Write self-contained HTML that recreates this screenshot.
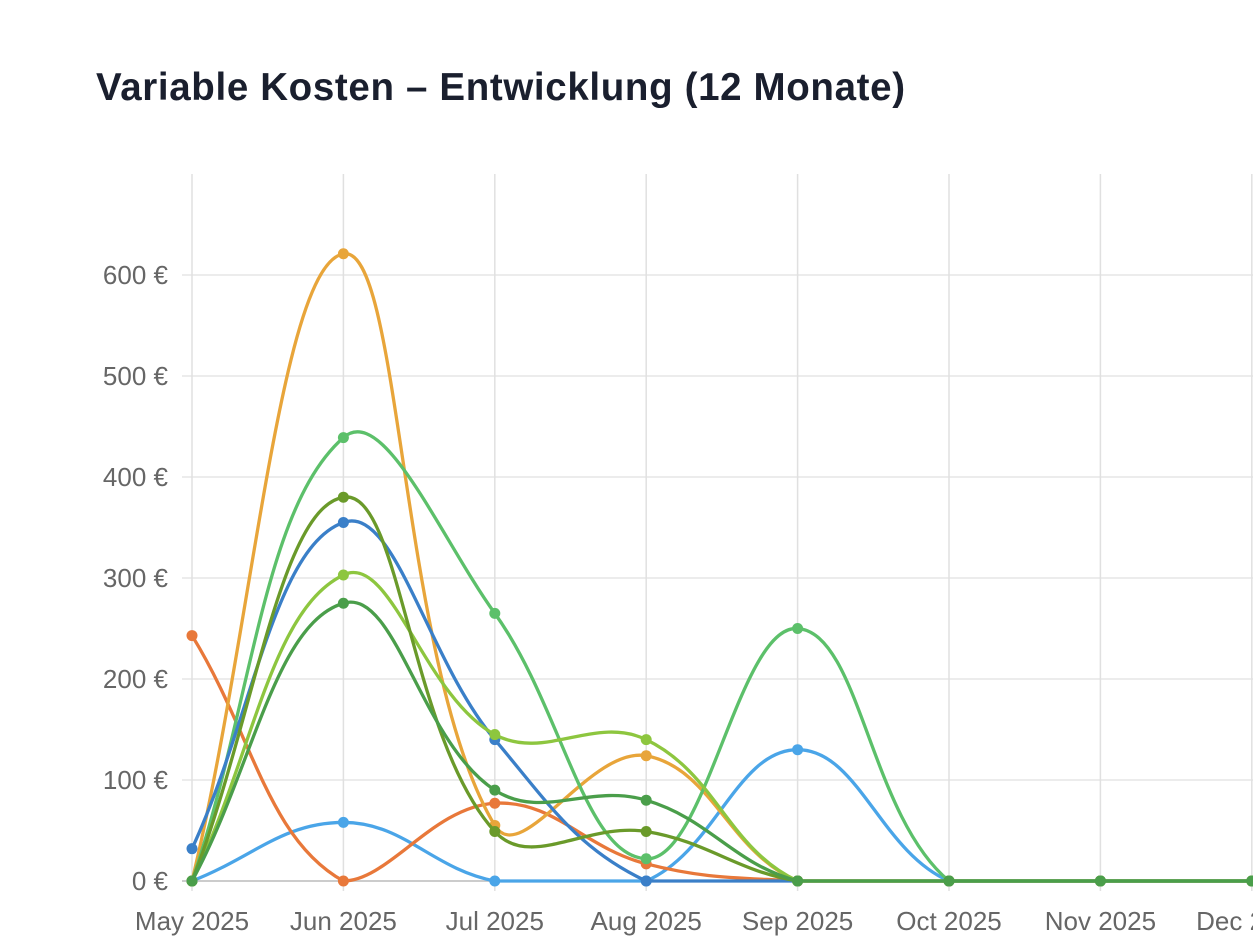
<!DOCTYPE html>
<html><head><meta charset="utf-8"><style>
body{margin:0;background:#fff;width:1253px;height:941px;overflow:hidden}
h1{position:absolute;left:96px;top:66px;margin:0;font:bold 38.5px "Liberation Sans",sans-serif;color:#1a1f2e;letter-spacing:0.65px}
svg{position:absolute;left:0;top:0}
text{font-family:"Liberation Sans",sans-serif;font-size:26px;fill:#666}
</style></head><body>
<h1>Variable Kosten – Entwicklung (12 Monate)</h1>
<svg id="c" width="1253" height="941"></svg>
<script>
const svg=document.getElementById('c');
const X=i=>192+i*151.4, Y=v=>881-v*1.01;
let s='';
for(let v=0;v<=600;v+=100){const y=Y(v);s+=`<line x1="182" x2="1253" y1="${y}" y2="${y}" stroke="${v==0?'#ccc':'#e5e5e5'}" stroke-width="${v==0?2:1.5}"/>`;s+=`<text x="168" y="${y+9}" text-anchor="end">${v} €</text>`;}
const mo=['May 2025','Jun 2025','Jul 2025','Aug 2025','Sep 2025','Oct 2025','Nov 2025','Dec 2025'];
for(let i=0;i<8;i++){const x=X(i);s+=`<line x1="${x}" x2="${x}" y1="174" y2="891" stroke="#e0e0e0" stroke-width="1.5"/><text x="${x}" y="930" text-anchor="middle">${mo[i]}</text>`;}
const D=[
['#4aa5e8',[0,58,0,0,130,0,0,0]],
['#e8783a',[243,0,77,17,0,0,0,0]],
['#e8a53a',[0,621,55,124,0,0,0,0]],
['#5cc06a',[0,439,265,22,250,0,0,0]],
['#3a7fc8',[32,355,140,0,0,0,0,0]],
['#8dc63f',[0,303,145,140,0,0,0,0]],
['#6a9a2a',[0,380,49,49,0,0,0,0]],
['#4a9e4a',[0,275,90,80,0,0,0,0]],
];
const t=0.4;
for(const [c,d] of D){
 const p=d.map((v,i)=>[X(i),Y(v)]);
 const cp=p.map((cur,i)=>{const pr=p[i-1]||cur,nx=p[i+1]||cur;
  const d01=Math.hypot(cur[0]-pr[0],cur[1]-pr[1]),d12=Math.hypot(nx[0]-cur[0],nx[1]-cur[1]);
  let s01=d01/(d01+d12),s12=d12/(d01+d12);if(isNaN(s01))s01=0;if(isNaN(s12))s12=0;
  const fa=t*s01,fb=t*s12;
  const cl=y=>Math.min(881,Math.max(174,y));
  return {a:[cur[0]-fa*(nx[0]-pr[0]),cl(cur[1]-fa*(nx[1]-pr[1]))],b:[cur[0]+fb*(nx[0]-pr[0]),cl(cur[1]+fb*(nx[1]-pr[1]))]};});
 let path=`M${p[0][0]},${p[0][1]}`;
 for(let i=1;i<p.length;i++)path+=` C${cp[i-1].b[0]},${cp[i-1].b[1]} ${cp[i].a[0]},${cp[i].a[1]} ${p[i][0]},${p[i][1]}`;
 s+=`<path d="${path}" fill="none" stroke="${c}" stroke-width="3.3"/>`;
 for(const q of p)s+=`<circle cx="${q[0]}" cy="${q[1]}" r="5.5" fill="${c}"/>`;
}
svg.innerHTML=s;
</script>
</body></html>
